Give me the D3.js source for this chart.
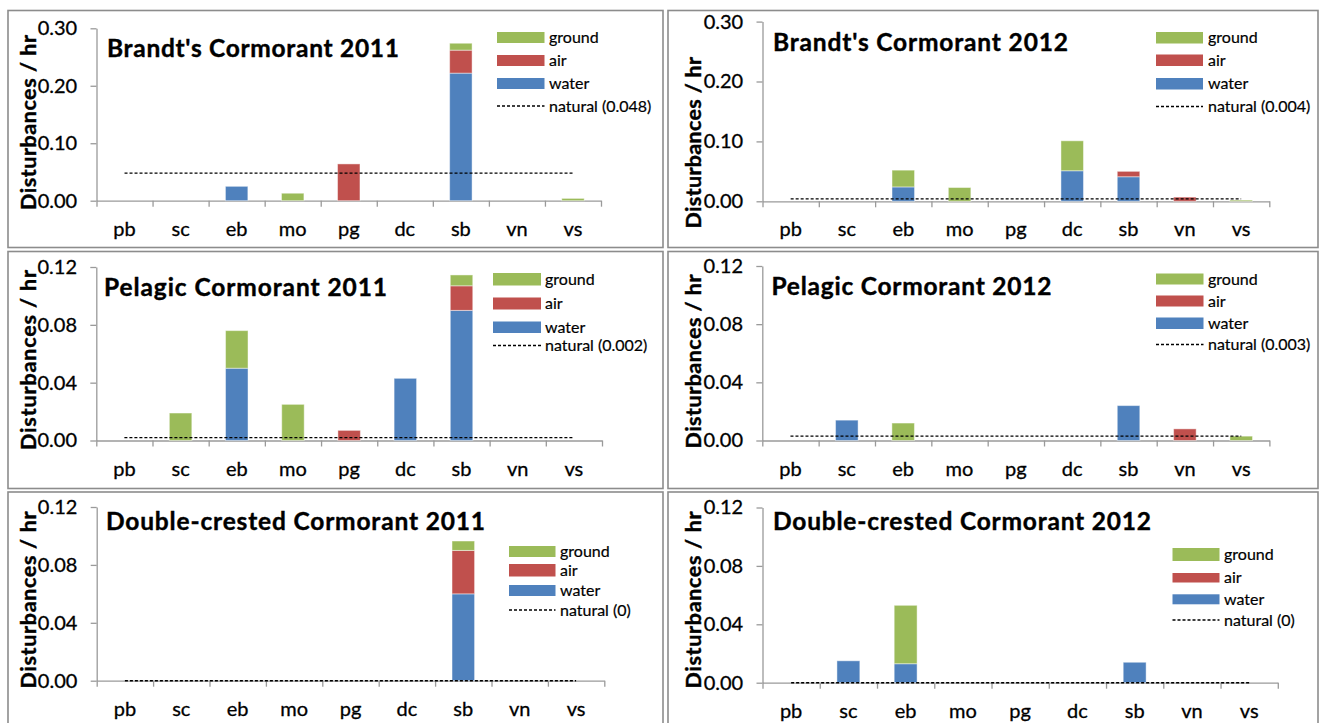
<!DOCTYPE html>
<html>
<head>
<meta charset="utf-8">
<script src="https://cdn.jsdelivr.net/npm/d3@7"></script>
<style>
  body { margin: 0; background: #fff; }
  svg { display: block; }
</style>
</head>
<body>
<svg id="chart" width="1320" height="723"></svg>
<script>
// Colony sites along the x axis
const categories = ["pb", "sc", "eb", "mo", "pg", "dc", "sb", "vn", "vs"];
const sourceKeys = ["water", "air", "ground"];
const legendKeys = ["ground", "air", "water"];

// Disturbances per hour by source, one array per panel and source
const brandt2011Water  = [0, 0, 0.025, 0, 0, 0, 0.222, 0, 0];
const brandt2011Air    = [0, 0, 0, 0, 0.064, 0, 0.040, 0, 0];
const brandt2011Ground = [0, 0, 0, 0.013, 0, 0, 0.012, 0, 0.004];
const brandt2011Natural = 0.048;

const brandt2012Water  = [0, 0, 0.024, 0, 0, 0.051, 0.041, 0, 0];
const brandt2012Air    = [0, 0, 0, 0, 0, 0, 0.009, 0.007, 0];
const brandt2012Ground = [0, 0, 0.028, 0.023, 0, 0.050, 0, 0, 0.002];
const brandt2012Natural = 0.004;

const pelagic2011Water  = [0, 0, 0.050, 0, 0, 0.043, 0.090, 0, 0];
const pelagic2011Air    = [0, 0, 0, 0, 0.007, 0, 0.017, 0, 0];
const pelagic2011Ground = [0, 0.019, 0.026, 0.025, 0, 0, 0.0075, 0, 0];
const pelagic2011Natural = 0.002;

const pelagic2012Water  = [0, 0.014, 0, 0, 0, 0, 0.024, 0, 0];
const pelagic2012Air    = [0, 0, 0, 0, 0, 0, 0, 0.008, 0];
const pelagic2012Ground = [0, 0, 0.012, 0, 0, 0, 0, 0, 0.003];
const pelagic2012Natural = 0.003;

const doubleCrested2011Water  = [0, 0, 0, 0, 0, 0, 0.060, 0, 0];
const doubleCrested2011Air    = [0, 0, 0, 0, 0, 0, 0.030, 0, 0];
const doubleCrested2011Ground = [0, 0, 0, 0, 0, 0, 0.0065, 0, 0];
const doubleCrested2011Natural = 0;

const doubleCrested2012Water  = [0, 0.015, 0.013, 0, 0, 0, 0.014, 0, 0];
const doubleCrested2012Air    = [0, 0, 0, 0, 0, 0, 0, 0, 0];
const doubleCrested2012Ground = [0, 0, 0.040, 0, 0, 0, 0, 0, 0];
const doubleCrested2012Natural = 0;

// Tick labels on the value axes
const brandtTicks = [0, 0.10, 0.20, 0.30];
const otherTicks = [0, 0.04, 0.08, 0.12];

const yAxisTitle = "Disturbances / hr";

const colors = { ground: "#9BBB59", air: "#C0504D", water: "#4F81BD" };
const axisColor = "#9a9a9a";
const FONT = "Lato, 'Open Sans', 'Liberation Sans', sans-serif";

// Panel definitions: data plus where each panel sits on the page
const panels = [
  {
    title: "Brandt's Cormorant 2011",
    water: brandt2011Water, air: brandt2011Air, ground: brandt2011Ground, natural: brandt2011Natural,
    ticks: brandtTicks,
    frame: [8, 10.5, 663, 247.5],
    plot: { x0: 96.5, x1: 601, yTop: 28.3, yBot: 200.7 },
    titlePos: { x: 107, y: 56.5, w: 292 },
    yLab: { x: 35.5, cy: 122.5, len: 175 },
    legend: { x: 497, w: 47.5, rows: [[32, 11], [55, 11], [78, 11]], line: 106, tx: 549 }
  },
  {
    title: "Brandt's Cormorant 2012",
    water: brandt2012Water, air: brandt2012Air, ground: brandt2012Ground, natural: brandt2012Natural,
    ticks: brandtTicks,
    frame: [668, 10.5, 1318, 247.5],
    plot: { x0: 762.5, x1: 1269.3, yTop: 21.6, yBot: 201.3 },
    titlePos: { x: 773, y: 51, w: 295 },
    yLab: { x: 701, cy: 142.7, len: 171.5 },
    legend: { x: 1156, w: 47, rows: [[32, 11.5], [54.5, 11.5], [78, 11.5]], line: 106.5, tx: 1208 }
  },
  {
    title: "Pelagic Cormorant 2011",
    water: pelagic2011Water, air: pelagic2011Air, ground: pelagic2011Ground, natural: pelagic2011Natural,
    ticks: otherTicks,
    frame: [8, 251.5, 663, 488.5],
    plot: { x0: 96.3, x1: 602, yTop: 267, yBot: 440.5 },
    titlePos: { x: 104, y: 295.5, w: 283 },
    yLab: { x: 36, cy: 360, len: 180 },
    legend: { x: 493, w: 48, rows: [[273, 12.5], [297.5, 12], [321.5, 11.5]], line: 345.5, tx: 545 }
  },
  {
    title: "Pelagic Cormorant 2012",
    water: pelagic2012Water, air: pelagic2012Air, ground: pelagic2012Ground, natural: pelagic2012Natural,
    ticks: otherTicks,
    frame: [668, 251.5, 1318, 488.5],
    plot: { x0: 762.3, x1: 1269.4, yTop: 266, yBot: 440.5 },
    titlePos: { x: 771.5, y: 294.5, w: 280 },
    yLab: { x: 701, cy: 361.5, len: 174 },
    legend: { x: 1156, w: 47.5, rows: [[273.5, 11], [295.5, 11], [317.5, 11.5]], line: 344.5, tx: 1208 }
  },
  {
    title: "Double-crested Cormorant 2011",
    water: doubleCrested2011Water, air: doubleCrested2011Air, ground: doubleCrested2011Ground, natural: doubleCrested2011Natural,
    ticks: otherTicks,
    frame: [8, 492, 663, 740],
    plot: { x0: 96.7, x1: 604.3, yTop: 507, yBot: 680.7 },
    titlePos: { x: 106, y: 530, w: 379 },
    yLab: { x: 36, cy: 600, len: 177 },
    legend: { x: 509, w: 46.5, rows: [[546, 11], [564, 12.5], [585, 11]], line: 610, tx: 560 }
  },
  {
    title: "Double-crested Cormorant 2012",
    water: doubleCrested2012Water, air: doubleCrested2012Air, ground: doubleCrested2012Ground, natural: doubleCrested2012Natural,
    ticks: otherTicks,
    frame: [668, 492, 1318, 740],
    plot: { x0: 762.5, x1: 1277.8, yTop: 507.5, yBot: 682.7 },
    titlePos: { x: 773, y: 530, w: 378 },
    yLab: { x: 701, cy: 600, len: 177 },
    legend: { x: 1172.5, w: 47, rows: [[548, 13], [573, 9.5], [594.3, 10]], line: 620, tx: 1224 }
  }
];

const svg = d3.select("#chart");

// light outline that darkens the regular-weight labels a little
function inked(sel, w) {
  return sel.attr("stroke", "#000").attr("stroke-width", w).attr("paint-order", "stroke");
}

panels.forEach(p => {
  const g = svg.append("g");
  const { x0, x1, yTop, yBot } = p.plot;

  // panel frame
  g.append("rect")
    .attr("x", p.frame[0]).attr("y", p.frame[1])
    .attr("width", p.frame[2] - p.frame[0]).attr("height", p.frame[3] - p.frame[1])
    .attr("fill", "#fff").attr("stroke", "#8c8c8c").attr("stroke-width", 1.6);

  const x = d3.scaleBand().domain(categories).range([x0, x1])
    .paddingInner(0.6).paddingOuter(0.3);
  const y = d3.scaleLinear().domain([0, d3.max(p.ticks)]).range([yBot, yTop]);

  // value axis
  const yAxis = d3.axisLeft(y).tickValues(p.ticks).tickFormat(d3.format(".2f"))
    .tickSizeInner(6).tickSizeOuter(0).tickPadding(13.3);
  const ya = g.append("g").attr("transform", `translate(${x0},0)`).call(yAxis);
  ya.select(".domain").attr("stroke", axisColor).attr("stroke-width", 1.3);
  ya.selectAll(".tick line").attr("stroke", axisColor).attr("stroke-width", 1.3);
  inked(ya.selectAll(".tick text").attr("font-family", FONT).attr("font-size", 20).attr("fill", "#000"), 0.3);

  // category axis: ticks sit on the boundaries between sites
  const xb = d3.scaleLinear().domain([0, categories.length]).range([x0, x1]);
  const xa = g.append("g").attr("transform", `translate(0,${yBot})`)
    .call(d3.axisBottom(xb).tickValues(d3.range(categories.length + 1))
      .tickFormat("").tickSizeInner(6).tickSizeOuter(0));
  xa.select(".domain").attr("stroke", axisColor).attr("stroke-width", 1.3);
  xa.selectAll(".tick line").attr("stroke", axisColor).attr("stroke-width", 1.3);

  inked(g.selectAll(".cat").data(categories).enter().append("text")
    .attr("x", d => x(d) + x.bandwidth() / 2)
    .attr("y", yBot + 35)
    .attr("text-anchor", "middle")
    .attr("font-family", FONT).attr("font-size", 20).attr("fill", "#000")
    .text(d => d), 0.3);

  // stacked bars
  const rows = categories.map((c, i) => ({ cat: c, water: p.water[i], air: p.air[i], ground: p.ground[i] }));
  const stacked = d3.stack().keys(sourceKeys)(rows);
  stacked.forEach(layer => {
    g.append("g").selectAll("rect")
      .data(layer.filter(d => d[1] - d[0] > 0))
      .enter().append("rect")
      .attr("x", d => x(d.data.cat))
      .attr("width", x.bandwidth())
      .attr("y", d => y(d[1]))
      .attr("height", d => y(d[0]) - y(d[1]))
      .attr("fill", colors[layer.key])
      .attr("stroke", "rgba(255,255,255,0.45)")
      .attr("stroke-width", 1);
  });

  // natural disturbance rate
  const natLine = d3.line()
    .x(d => x(d) + x.bandwidth() / 2)
    .y(() => y(p.natural));
  g.append("path")
    .datum(categories)
    .attr("d", natLine)
    .attr("fill", "none").attr("stroke", "#000")
    .attr("stroke-width", 1.4).attr("stroke-dasharray", "3,2");

  // panel title
  g.append("text")
    .attr("x", p.titlePos.x).attr("y", p.titlePos.y)
    .attr("font-family", FONT).attr("font-weight", "bold").attr("font-size", 24.5)
    .attr("textLength", p.titlePos.w)
    .attr("fill", "#000")
    .attr("stroke", "#000").attr("stroke-width", 0.4)
    .text(p.title);

  // value-axis title
  g.append("text")
    .attr("transform", `translate(${p.yLab.x},${p.yLab.cy}) rotate(-90)`)
    .attr("text-anchor", "middle")
    .attr("font-family", FONT).attr("font-weight", "bold").attr("font-size", 21.5)
    .attr("textLength", p.yLab.len)
    .attr("fill", "#000")
    .attr("stroke", "#000").attr("stroke-width", 0.4)
    .text(yAxisTitle);

  // legend
  const L = p.legend;
  legendKeys.forEach((k, i) => {
    const [ry, rh] = L.rows[i];
    g.append("rect")
      .attr("x", L.x).attr("y", ry).attr("width", L.w).attr("height", rh)
      .attr("fill", colors[k]);
    inked(g.append("text")
      .attr("x", L.tx).attr("y", ry + rh / 2 + 5.5)
      .attr("font-family", FONT).attr("font-size", 16).attr("fill", "#000")
      .text(k), 0.2);
  });
  g.append("line")
    .attr("x1", L.x).attr("x2", L.x + L.w)
    .attr("y1", L.line).attr("y2", L.line)
    .attr("stroke", "#000").attr("stroke-width", 1.3).attr("stroke-dasharray", "3,2");
  inked(g.append("text")
    .attr("x", L.tx).attr("y", L.line + 5.5)
    .attr("font-family", FONT).attr("font-size", 16).attr("fill", "#000")
    .text(`natural (${p.natural})`), 0.2);
});
</script>
</body>
</html>
